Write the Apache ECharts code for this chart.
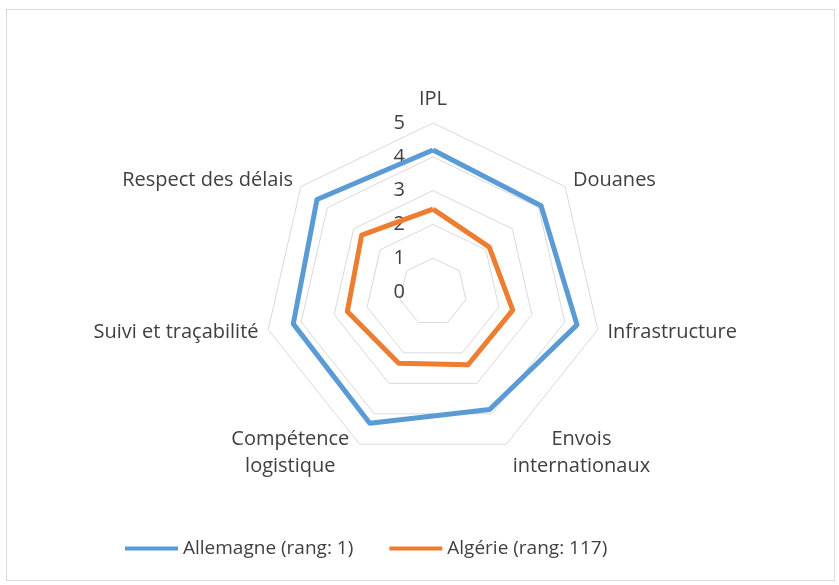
<!DOCTYPE html>
<html>
<head>
<meta charset="utf-8">
<script src="https://cdn.jsdelivr.net/npm/echarts@6/dist/echarts.min.js"></script>
<style>
  html, body { margin: 0; padding: 0; background: #fff; }
  #frame { position: absolute; left: 6px; top: 9px; width: 829px; height: 572px; border: 1px solid #d9d9d9; box-sizing: border-box; }
  #main { position: absolute; left: 0; top: 0; width: 839px; height: 585px; }
</style>
</head>
<body>
<div id="frame"></div>
<div id="main"></div>
<script>
// axes listed clockwise from the top, as in the source chart
var indicators = ['IPL', 'Douanes', 'Infrastructure', 'Envois\ninternationaux',
    'Compétence\nlogistique', 'Suivi et traçabilité', 'Respect des délais'];
var seriesNames = ['Allemagne (rang: 1)', 'Algérie (rang: 117)'];
var allemagne = [4.20, 4.09, 4.37, 3.86, 4.31, 4.24, 4.39];
var algerie = [2.45, 2.13, 2.42, 2.39, 2.34, 2.60, 2.70];
var colors = ['#5b9bd5', '#ed7d31'];

var font = '"Open Sans", sans-serif';

// echarts lays radar axes out counter-clockwise, so flip the order after the first
function clockwise(arr) {
    return [arr[0]].concat(arr.slice(1).reverse());
}

var chart = echarts.init(document.getElementById('main'));

var indicatorList = clockwise(indicators).map(function (name, i) {
    var item = { name: name, min: 0, max: 5 };
    if (i === 0) {
        item.axisLabel = { show: true };
    }
    return item;
});

// two-line names are centred on themselves like in Excel
function nameFormatter(name) {
    if (name.indexOf('\n') < 0) return name;
    var style = name.indexOf('Envois') === 0 ? 'r' : 'l';
    return name.split('\n').map(function (s) {
        return '{' + style + '|' + s + '}';
    }).join('\n');
}

var nameStyle = { color: '#404040', fontSize: 20, fontFamily: font, lineHeight: 27 };

chart.setOption({
    animation: false,
    color: colors,
    legend: {
        bottom: 22,
        left: 120,
        icon: 'rect',
        itemWidth: 53,
        itemHeight: 4,
        itemGap: 36,
        textStyle: { color: '#404040', fontSize: 19, fontFamily: font },
        data: seriesNames
    },
    radar: {
        center: [433, 292],
        radius: 169,
        startAngle: 90,
        splitNumber: 5,
        shape: 'polygon',
        nameGap: 10,
        axisName: {
            color: '#404040', fontSize: 20, fontFamily: font, lineHeight: 27,
            formatter: nameFormatter,
            rich: {
                r: Object.assign({ align: 'center', padding: [0, 0, 0, 2] }, nameStyle),
                l: Object.assign({ align: 'center', padding: [0, 6, 0, 0] }, nameStyle)
            }
        },
        axisLine: { show: false },
        axisTick: { show: false },
        axisLabel: { show: false, color: '#404040', fontSize: 20, fontFamily: font, margin: 28 },
        splitLine: { lineStyle: { color: '#d9d9d9', width: 1 } },
        splitArea: { show: false },
        indicator: indicatorList
    },
    series: [{
        type: 'radar',
        symbol: 'none',
        data: [
            { name: seriesNames[0], value: clockwise(allemagne), lineStyle: { width: 5, color: colors[0] } },
            { name: seriesNames[1], value: clockwise(algerie), lineStyle: { width: 5, color: colors[1] } }
        ]
    }]
});
</script>
</body>
</html>
